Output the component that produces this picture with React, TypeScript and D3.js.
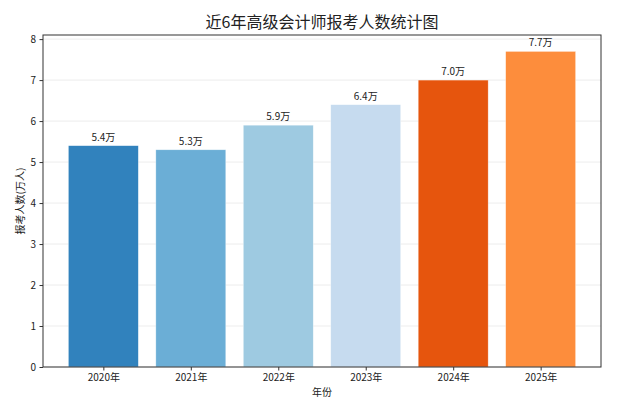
import { useEffect, useRef } from "react";
import * as d3 from "d3";

const years = ["2020年", "2021年", "2022年", "2023年", "2024年", "2025年"];
const counts = [5.4, 5.3, 5.9, 6.4, 7.0, 7.7];
const colors = ["#3182bd", "#6baed6", "#9ecae1", "#c6dbef", "#e6550d", "#fd8d3c"];
const yTicks = [0, 1, 2, 3, 4, 5, 6, 7, 8];

const FONT = "'Noto Sans CJK SC', 'Noto Sans', sans-serif";

export default function App() {
  const ref = useRef<SVGSVGElement>(null);

  useEffect(() => {
    if (!ref.current) return;
    const width = 618;
    const height = 415;
    const marginTop = 35;
    const marginRight = 17;
    const marginBottom = 48;
    const marginLeft = 43;

    const svg = d3.select(ref.current);
    svg.selectAll("*").remove();

    // matplotlib-like linear x: bars at 0..5, width 0.8, 5% margins
    const x = d3
      .scaleLinear()
      .domain([-0.69, 5.69])
      .range([marginLeft, width - marginRight]);
    const y = d3
      .scaleLinear()
      .domain([0, 8.1])
      .range([height - marginBottom, marginTop]);

    // grid
    svg
      .append("g")
      .selectAll("line")
      .data(yTicks)
      .join("line")
      .attr("x1", marginLeft)
      .attr("x2", width - marginRight)
      .attr("y1", (d) => y(d))
      .attr("y2", (d) => y(d))
      .attr("stroke", "#b0b0b0")
      .attr("stroke-opacity", 0.3)
      .attr("stroke-width", 0.8);

    // bars
    svg
      .append("g")
      .selectAll("rect")
      .data(counts)
      .join("rect")
      .attr("x", (_, i) => x(i - 0.4))
      .attr("width", (_, i) => x(i + 0.4) - x(i - 0.4))
      .attr("y", (d) => y(d))
      .attr("height", (d) => y(0) - y(d))
      .attr("fill", (_, i) => colors[i])
      .attr("stroke", "white")
      .attr("stroke-width", 0.6)
      .attr("stroke-opacity", 0.6);

    // value labels
    svg
      .append("g")
      .selectAll("text")
      .data(counts)
      .join("text")
      .attr("x", (_, i) => x(i))
      .attr("y", (d) => y(d) - 5)
      .attr("text-anchor", "middle")
      .attr("font-family", FONT)
      .attr("font-size", 10)
      .attr("fill", "#222")
      .text((d) => `${d.toFixed(1)}万`);

    // frame
    svg
      .append("rect")
      .attr("x", marginLeft)
      .attr("y", marginTop)
      .attr("width", width - marginLeft - marginRight)
      .attr("height", height - marginTop - marginBottom)
      .attr("fill", "none")
      .attr("stroke", "#333")
      .attr("stroke-width", 1);

    // y axis
    const yAxis = svg
      .append("g")
      .attr("transform", `translate(${marginLeft},0)`)
      .call(d3.axisLeft(y).tickValues(yTicks).tickSize(3.5).tickPadding(3.5));
    yAxis.select(".domain").remove();
    yAxis.selectAll(".tick line").attr("stroke", "#333");
    yAxis
      .selectAll("text")
      .attr("font-family", FONT)
      .attr("font-size", 10)
      .attr("fill", "#222");

    // x axis
    const xAxis = svg
      .append("g")
      .attr("transform", `translate(0,${height - marginBottom})`)
      .call(
        d3
          .axisBottom(x)
          .tickValues(d3.range(years.length))
          .tickFormat((d) => years[d as number])
          .tickSize(3.5)
          .tickPadding(3.5)
      );
    xAxis.select(".domain").remove();
    xAxis.selectAll(".tick line").attr("stroke", "#333");
    xAxis
      .selectAll("text")
      .attr("font-family", FONT)
      .attr("font-size", 10)
      .attr("fill", "#222");

    // titles
    svg
      .append("text")
      .attr("x", (marginLeft + width - marginRight) / 2)
      .attr("y", 28)
      .attr("text-anchor", "middle")
      .attr("font-family", FONT)
      .attr("font-size", 16)
      .attr("fill", "#222")
      .text("近6年高级会计师报考人数统计图");

    svg
      .append("text")
      .attr("x", (marginLeft + width - marginRight) / 2)
      .attr("y", 396)
      .attr("text-anchor", "middle")
      .attr("font-family", FONT)
      .attr("font-size", 10)
      .attr("fill", "#222")
      .text("年份");

    svg
      .append("text")
      .attr(
        "transform",
        `translate(24,${(marginTop + height - marginBottom) / 2}) rotate(-90)`
      )
      .attr("text-anchor", "middle")
      .attr("font-family", FONT)
      .attr("font-size", 10)
      .attr("fill", "#222")
      .text("报考人数(万人)");
  }, []);

  return (
    <svg
      ref={ref}
      width={618}
      height={415}
      style={{ display: "block", position: "absolute", left: 0, top: 0 }}
    />
  );
}
